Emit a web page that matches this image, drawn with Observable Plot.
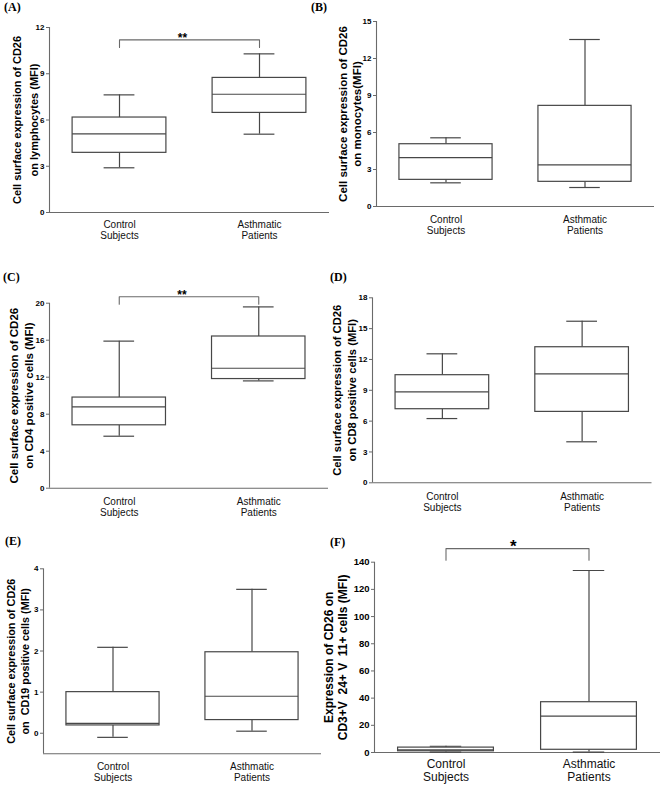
<!DOCTYPE html>
<html><head><meta charset="utf-8">
<script src="https://cdn.jsdelivr.net/npm/d3@7"></script>
<script src="https://cdn.jsdelivr.net/npm/@observablehq/plot@0.6"></script>
<style>
body{margin:0;background:#fff}
#page{position:relative;width:661px;height:786px;overflow:hidden;background:#fff}
.panel{position:absolute}
.tag{position:absolute;font:bold 12px "Liberation Serif","Times New Roman",serif;line-height:12px;color:#000;white-space:nowrap}
</style></head><body><div id="page"></div>
<script>
// ---- data ----
const groups = ["Control\nSubjects", "Asthmatic\nPatients"];

// (A) lymphocytes
const A_min = [2.9, 5.08], A_q1 = [3.87, 6.46], A_med = [5.1, 7.67], A_q3 = [6.16, 8.73], A_max = [7.63, 10.29];
const A_ticks = [0, 3, 6, 9, 12], A_domain = [0, 12], A_bracket = [11.2, 10.7], A_sig = "**";
// (B) monocytes
const B_min = [1.92, 1.54], B_q1 = [2.16, 2.0], B_med = [3.97, 3.38], B_q3 = [5.05, 8.16], B_max = [5.57, 13.54];
const B_ticks = [0, 3, 6, 9, 12, 15], B_domain = [0, 15];
// (C) CD4
const C_min = [5.62, 11.6], C_q1 = [6.8, 11.8], C_med = [8.8, 12.97], C_q3 = [9.8, 16.4], C_max = [15.9, 19.6];
const C_ticks = [0, 4, 8, 12, 16, 20], C_domain = [0, 20], C_bracket = [20.7, 19.9], C_sig = "**";
// (D) CD8
const D_min = [6.25, 3.99], D_q1 = [7.16, 6.9], D_med = [8.85, 10.6], D_q3 = [10.47, 13.19], D_max = [12.55, 15.72];
const D_ticks = [0, 3, 6, 9, 12, 15, 18], D_domain = [0, 18];
// (E) CD19
const E_min = [-0.1, 0.05], E_q1 = [0.19, 0.32], E_med = [0.24, 0.9], E_q3 = [1.0, 1.97], E_max = [2.09, 3.5];
const E_ticks = [0, 1, 2, 3, 4], E_domain = [-0.5, 4];
// (F) NKT
const F_min = [0.3, 0.3], F_q1 = [0.9, 2.0], F_med = [2.0, 26.7], F_q3 = [3.6, 37.0], F_max = [4.6, 133.9];
const F_ticks = [0, 20, 40, 60, 80, 100, 120, 140], F_domain = [0, 140], F_bracket = [150, 141.5], F_sig = "*";

const titleA = "Cell surface expression of CD26\non lymphocytes (MFI)";
const titleB = "Cell surface expression of CD26\non monocytes(MFI)";
const titleC = "Cell surface expression of CD26\non CD4 positive cells (MFI)";
const titleD = "Cell surface expression of CD26\non CD8 positive cells (MFI)";
const titleE = "Cell surface expression of CD26\non\u00A0 CD19 positive cells (MFI)";
const titleF = "Expression of CD26 on\nCD3+V\u00A0\u00A024+ V\u00A0\u00A011+ cells (MFI)";

// ---- layout / style ----
const X_DOMAIN = [-0.5, 1.5];
const BOX_HALF = 0.335, CAP_HALF = 0.11;
const BOX_STROKE = "#474747", AXIS_STROKE = "#6a6a6a";

function panel(cfg, stats) {
  const rows = groups.map((g, i) => ({
    i, lo: stats.min[i], q1: stats.q1[i], med: stats.med[i], q3: stats.q3[i], hi: stats.max[i]
  }));
  const marks = [
    Plot.ruleX([X_DOMAIN[0]], {stroke: AXIS_STROKE, strokeWidth: 1.1}),
    Plot.ruleY([stats.domain[0]], {stroke: AXIS_STROKE, strokeWidth: 1.1}),
    Plot.ruleX(rows, {x: "i", y1: "q3", y2: "hi", stroke: BOX_STROKE, strokeWidth: 1.2}),
    Plot.ruleX(rows, {x: "i", y1: "lo", y2: "q1", stroke: BOX_STROKE, strokeWidth: 1.2}),
    Plot.rect(rows, {x1: d => d.i - BOX_HALF, x2: d => d.i + BOX_HALF, y1: "q1", y2: "q3",
      fill: "white", stroke: BOX_STROKE, strokeWidth: 1.2}),
    Plot.ruleY(rows, {y: "med", x1: d => d.i - BOX_HALF, x2: d => d.i + BOX_HALF, stroke: BOX_STROKE, strokeWidth: 1.2}),
    Plot.ruleY(rows, {y: "hi", x1: d => d.i - CAP_HALF, x2: d => d.i + CAP_HALF, stroke: BOX_STROKE, strokeWidth: 1.2}),
    Plot.ruleY(rows, {y: "lo", x1: d => d.i - CAP_HALF, x2: d => d.i + CAP_HALF, stroke: BOX_STROKE, strokeWidth: 1.2}),
    Plot.axisY({ticks: stats.ticks, tickFormat: d => String(d), tickSize: 3, tickPadding: 2, fontSize: cfg.tickFont,
      fontWeight: "bold", label: null, stroke: AXIS_STROKE, fill: "#000"}),
    Plot.axisX({ticks: [0, 1], tickFormat: i => groups[i], tickSize: 0, tickPadding: cfg.xPad,
      fontSize: cfg.xFont, lineHeight: cfg.xLH, label: null, fill: "#111"}),
    Plot.text([cfg.title], {text: d => d, frameAnchor: "left", textAnchor: "middle", lineAnchor: "middle",
      rotate: -90, dx: cfg.titleDx,
      fontSize: cfg.titleFont, fontWeight: "bold", lineHeight: cfg.titleLH, fill: "#000"})
  ];
  if (stats.bracket) {
    const [top, leg] = stats.bracket;
    const pts = [{x: 0, y: leg}, {x: 0, y: top}, {x: 1, y: top}, {x: 1, y: leg}];
    marks.push(Plot.line(pts, {x: "x", y: "y", stroke: AXIS_STROKE, strokeWidth: 1.1}));
    marks.push(Plot.text([stats.sig], {text: d => d, x: cfg.sigX, y: top, dy: cfg.sigDy,
      fontSize: cfg.sigFont, fontWeight: "bold", fill: "#000"}));
  }
  const svg = Plot.plot({
    width: cfg.w, height: cfg.h,
    marginLeft: cfg.mL, marginRight: cfg.mR, marginTop: cfg.mT, marginBottom: cfg.mB,
    x: {type: "linear", domain: X_DOMAIN},
    y: {type: "linear", domain: stats.domain},
    style: {fontFamily: "'Liberation Sans', Arial, sans-serif", color: "#000", background: "transparent", overflow: "visible"},
    marks
  });
  svg.classList.add("panel");
  svg.style.left = cfg.left + "px";
  svg.style.top = cfg.top + "px";
  const page = document.getElementById("page");
  page.appendChild(svg);
  const tag = document.createElement("div");
  tag.className = "tag";
  tag.textContent = cfg.tag;
  tag.style.left = cfg.tagX + "px";
  tag.style.top = cfg.tagY + "px";
  page.appendChild(tag);
}

panel({left: 0, top: 0, w: 330, h: 262, mL: 49, mR: 1, mT: 27, mB: 50, title: titleA, titleDx: -25.5,
  titleFont: 11, titleLH: 1.5, tickFont: 8, xFont: 10, xPad: 8, xLH: 1.1, sigX: 0.45, sigDy: -1.5, sigFont: 12,
  tag: "(A)", tagX: 4, tagY: 1},
  {min: A_min, q1: A_q1, med: A_med, q3: A_q3, max: A_max, ticks: A_ticks, domain: A_domain, bracket: A_bracket, sig: A_sig});

panel({left: 330, top: 0, w: 331, h: 262, mL: 46, mR: 7, mT: 21, mB: 56, title: titleB, titleDx: -27,
  titleFont: 11.5, titleLH: 1.27, tickFont: 8, xFont: 10, xPad: 9, xLH: 1.1,
  tag: "(B)", tagX: 311, tagY: 0.5},
  {min: B_min, q1: B_q1, med: B_med, q3: B_q3, max: B_max, ticks: B_ticks, domain: B_domain});

panel({left: 0, top: 262, w: 330, h: 262, mL: 49, mR: 2, mT: 40.7, mB: 36.3, title: titleC, titleDx: -28.5,
  titleFont: 11.5, titleLH: 1.3, tickFont: 8, xFont: 10, xPad: 9, xLH: 1.1, sigX: 0.45, sigDy: -1.5, sigFont: 12,
  tag: "(C)", tagX: 3, tagY: 270.5},
  {min: C_min, q1: C_q1, med: C_med, q3: C_q3, max: C_max, ticks: C_ticks, domain: C_domain, bracket: C_bracket, sig: C_sig});

panel({left: 330, top: 262, w: 331, h: 262, mL: 42, mR: 9.5, mT: 35.3, mB: 41.7, title: titleD, titleDx: -28.5,
  titleFont: 11.2, titleLH: 1.3, tickFont: 8, xFont: 10, xPad: 9, xLH: 1.1,
  tag: "(D)", tagX: 330, tagY: 270.5},
  {min: D_min, q1: D_q1, med: D_med, q3: D_q3, max: D_max, ticks: D_ticks, domain: D_domain});

panel({left: 0, top: 524, w: 330, h: 262, mL: 43, mR: 9, mT: 44.3, mB: 32.7, title: titleE, titleDx: -26,
  titleFont: 10.8, titleLH: 1.3, tickFont: 8, xFont: 10, xPad: 8, xLH: 1.1,
  tag: "(E)", tagX: 5, tagY: 534.5},
  {min: E_min, q1: E_q1, med: E_med, q3: E_q3, max: E_max, ticks: E_ticks, domain: E_domain});

panel({left: 310, top: 524, w: 351, h: 262, mL: 64, mR: 1, mT: 37.7, mB: 34, title: titleF, titleDx: -39,
  titleFont: 12, titleLH: 1.2, tickFont: 9.5, xFont: 12, xPad: 7, xLH: 1.05, sigX: 0.47, sigDy: -2, sigFont: 17,
  tag: "(F)", tagX: 330, tagY: 536},
  {min: F_min, q1: F_q1, med: F_med, q3: F_q3, max: F_max, ticks: F_ticks, domain: F_domain, bracket: F_bracket, sig: F_sig});
</script></body></html>
